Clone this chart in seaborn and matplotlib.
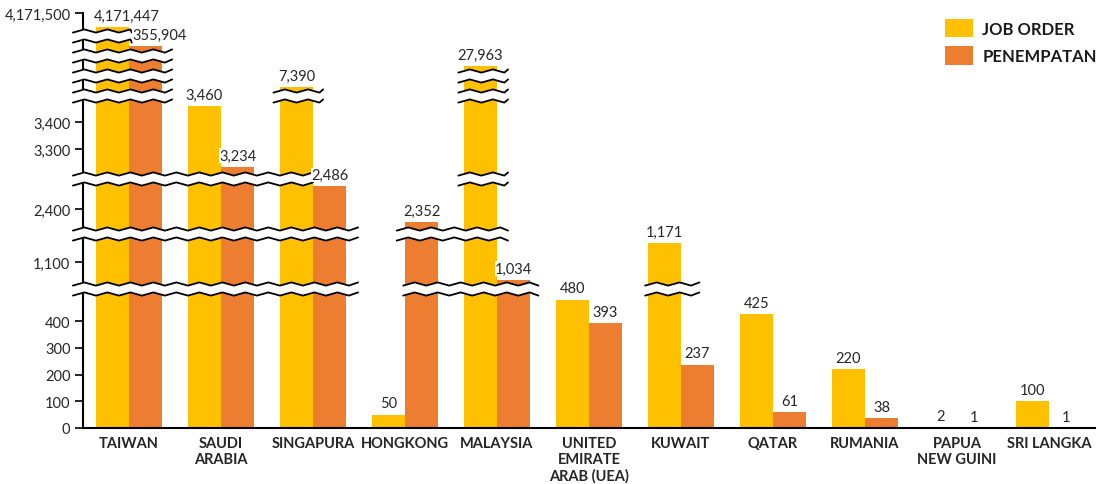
import numpy as np
import pandas as pd
import matplotlib
matplotlib.use("Agg")
import matplotlib.pyplot as plt
import matplotlib.transforms as mtransforms
from matplotlib.patches import Polygon
from matplotlib.ticker import FixedLocator, FixedFormatter
import seaborn as sns

# ---------------- data ----------------
countries = ["TAIWAN", "SAUDI\nARABIA", "SINGAPURA", "HONGKONG", "MALAYSIA",
             "UNITED\nEMIRATE\nARAB (UEA)", "KUWAIT", "QATAR", "RUMANIA",
             "PAPUA\nNEW GUINI", "SRI LANGKA"]
job_order = [4171447, 3460, 7390, 50, 27963, 480, 1171, 425, 220, 2, 100]
penempatan = [355904, 3234, 2486, 2352, 1034, 393, 237, 61, 38, 1, 1]
series_names = ["JOB ORDER", "PENEMPATAN"]
colors = ["#FFC000", "#ED7D31"]

y_ticks = [0, 100, 200, 300, 400, 1100, 2400, 3300, 3400, 4171500]
y_tick_labels = ["0", "100", "200", "300", "400", "1,100", "2,400", "3,300", "3,400", "4,171,500"]

# broken-axis scale: value knots -> display height knots
scale_values = [0, 501, 1018, 1186, 2333, 2493, 3218, 3478, 7390, 27963, 355904, 4171447, 4171500]
scale_disp = [0, 134, 144, 189, 201, 244, 257, 327, 341, 362, 382, 401, 415]

# break markers: (lower display height, list of (x0, x1) in category units)
breaks = [
    (134, [(-0.61, 2.49), (2.98, 4.45), (5.61, 6.2)]),
    (189, [(-0.61, 2.49), (2.91, 4.12)]),
    (244, [(-0.61, 2.0), (3.58, 4.12)]),
    (327, [(-0.61, 0.47), (1.57, 2.11), (3.58, 4.12)]),
    (347, [(-0.61, 0.47), (3.58, 4.12)]),
    (367, [(-0.61, 0.47)]),
    (387, [(-0.61, 0.03)]),
]

# ---------------- build ----------------
df = pd.DataFrame({
    "country": countries * 2,
    "series": [series_names[0]] * len(countries) + [series_names[1]] * len(countries),
    "value": job_order + penempatan,
})

sns.set_theme(style="white")
plt.rcParams["font.family"] = ["Lato", "DejaVu Sans"]

fig = plt.figure(figsize=(10.98, 4.85), dpi=100)
ax = fig.add_axes([83 / 1098, 56 / 485, (1095 - 83) / 1098, 415 / 485])

sv = np.array(scale_values, dtype=float)
sd = np.array(scale_disp, dtype=float)


def fwd(v):
    return np.interp(v, sv, sd)


def inv(d):
    return np.interp(d, sd, sv)


sns.barplot(data=df, x="country", y="value", hue="series", palette=colors,
            width=0.72, saturation=1, ax=ax, legend=True, zorder=2,
            linewidth=0, edgecolor="none")
ax.set_yscale("function", functions=(fwd, inv))
ax.set_ylim(0, 4171500)
ax.set_xlim(-0.5, len(countries) - 0.5)

# bar labels
for cont in ax.containers:
    vals = [int(round(r.get_height())) for r in cont]
    anns = ax.bar_label(cont, labels=[f"{v:,}" for v in vals], padding=3, fontsize=10.5,
                        color="#262626", zorder=10,
                        bbox=dict(facecolor="white", edgecolor="none", pad=0.1))
    # Taiwan labels sit slightly to the right in the original
    anns[0].xyann = (10, 3)

# break markers
blend = mtransforms.blended_transform_factory(ax.transData, ax.transAxes)
H = scale_disp[-1]
gap = 10
amp = 1.6
step = 0.125
for d0, spans in breaks:
    for x0, x1 in spans:
        xs = np.arange(x0, x1 + 1e-9, step)
        if xs[-1] < x1:
            xs = np.append(xs, x1)
        off = np.array([amp if i % 2 else -amp for i in range(len(xs))])
        lo = (d0 + off) / H
        hi = (d0 + gap + off) / H
        poly = Polygon(np.column_stack([np.concatenate([xs, xs[::-1]]),
                                        np.concatenate([lo, hi[::-1]])]),
                       closed=True, facecolor="white", edgecolor="none",
                       transform=blend, zorder=6, clip_on=False)
        ax.add_patch(poly)
        ax.plot(xs, lo, color="black", lw=1.3, transform=blend, zorder=7,
                clip_on=False, solid_joinstyle="round")
        ax.plot(xs, hi, color="black", lw=1.3, transform=blend, zorder=7,
                clip_on=False, solid_joinstyle="round")

ax.set_xlim(-0.5, len(countries) - 0.5)
ax.set_ylim(0, 4171500)

# axes styling
ax.yaxis.set_major_locator(FixedLocator(y_ticks))
ax.yaxis.set_major_formatter(FixedFormatter(y_tick_labels))
ax.yaxis.set_minor_locator(FixedLocator([]))
ax.tick_params(axis="y", which="major", length=6, width=1.2, color="black",
               labelsize=10.5, labelcolor="#262626", pad=3, left=True)
ax.tick_params(axis="x", length=0, pad=6)
for lab in ax.get_xticklabels():
    lab.set_fontweight("bold")
    lab.set_fontsize(10.5)
    lab.set_color("#262626")
    lab.set_linespacing(1.15)
ax.set_xlabel("")
ax.set_ylabel("")
for s in ["top", "right"]:
    ax.spines[s].set_visible(False)
for s in ["left", "bottom"]:
    ax.spines[s].set_color("black")
    ax.spines[s].set_linewidth(1.5)
ax.grid(False)

leg = ax.legend(loc="upper left", bbox_to_anchor=(945 / 1098, 1 - 20 / 485),
                bbox_transform=fig.transFigure, frameon=False, borderpad=0,
                borderaxespad=0, handlelength=1.65, handleheight=1.3,
                handletextpad=0.6, labelspacing=0.55,
                prop={"weight": "bold", "size": 12})
for t in leg.get_texts():
    t.set_color("#1a1a1a")

fig.savefig("out.png", dpi=100)
